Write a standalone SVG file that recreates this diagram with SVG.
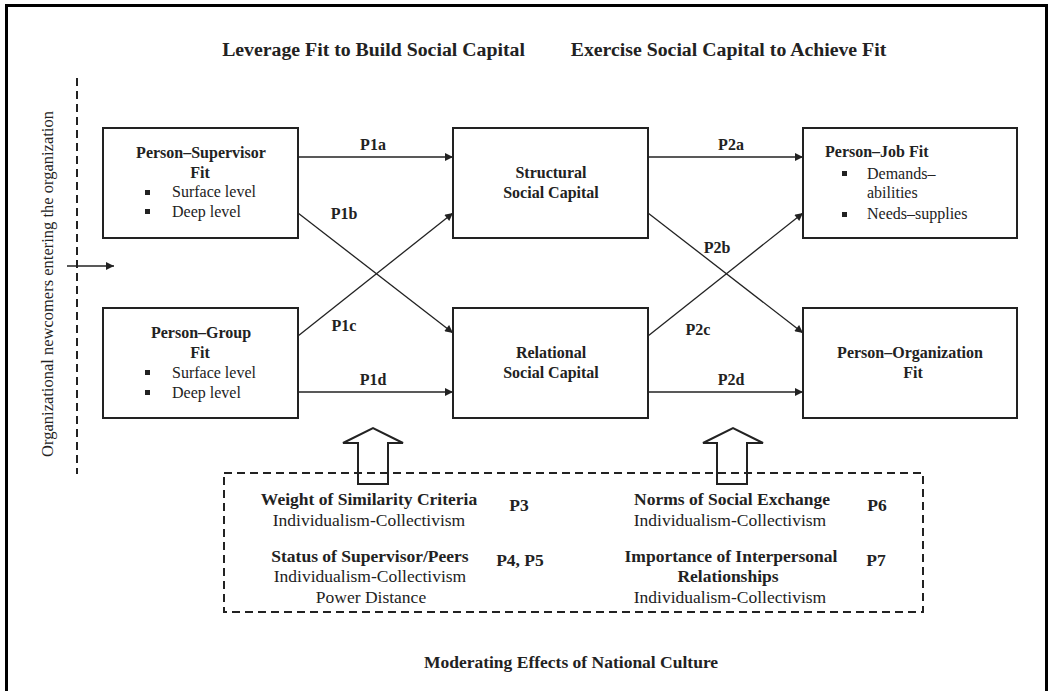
<svg xmlns="http://www.w3.org/2000/svg" width="1050" height="691" viewBox="0 0 1050 691">
<defs>
<marker id="ah" viewBox="0 0 10 10" refX="10" refY="5" markerWidth="10" markerHeight="8" markerUnits="userSpaceOnUse" orient="auto">
<path d="M0,0 L10,5 L0,10 z" fill="#222"/>
</marker>
<style>
text{font-family:"Liberation Serif","Times New Roman",serif;fill:#222}
.b{font-weight:bold;font-size:16px}
.r{font-size:16px}
.mb{font-weight:bold;font-size:17.5px}
.mr{font-size:17.5px}
.t{font-weight:bold;font-size:19.8px}
.c{text-anchor:middle}
.box{fill:#fff;stroke:#222;stroke-width:2}
.ln{stroke:#222;stroke-width:1.3;fill:none;marker-end:url(#ah)}
.bul{fill:#222}
.blk{fill:none;stroke:#222;stroke-width:2}
.dash{fill:none;stroke:#222;stroke-width:2;stroke-dasharray:8 5}
</style>
</defs>
<rect x="0" y="0" width="1050" height="691" fill="#fff"/>
<rect x="6.5" y="5.5" width="1040" height="700" fill="none" stroke="#000" stroke-width="3"/>

<g id="titles">
<text class="t c" x="373.5" y="56">Leverage Fit to Build Social Capital</text>
<text class="t c" x="728.5" y="56">Exercise Social Capital to Achieve Fit</text>
</g>

<g id="entry">
<line class="dash" x1="77" y1="78" x2="77" y2="474" stroke-width="1.8"/>
<text class="c" font-size="16.5" transform="translate(53,284) rotate(-90)">Organizational newcomers entering the organization</text>
</g>

<g id="connectors">
<line class="ln" x1="67" y1="266" x2="114" y2="266"/>
<line class="ln" x1="298" y1="157" x2="453" y2="157"/>
<line class="ln" x1="298" y1="213" x2="453" y2="333"/>
<line class="ln" x1="298" y1="336" x2="453" y2="213"/>
<line class="ln" x1="298" y1="392" x2="453" y2="392"/>
<line class="ln" x1="648" y1="157" x2="803" y2="157"/>
<line class="ln" x1="648" y1="213" x2="803" y2="333"/>
<line class="ln" x1="648" y1="336" x2="803" y2="213"/>
<line class="ln" x1="648" y1="392" x2="803" y2="392"/>
<text class="b c" x="373" y="150">P1a</text>
<text class="b c" x="344" y="219">P1b</text>
<text class="b c" x="344" y="331">P1c</text>
<text class="b c" x="373" y="385">P1d</text>
<text class="b c" x="731" y="150">P2a</text>
<text class="b c" x="717" y="253">P2b</text>
<text class="b c" x="698" y="335">P2c</text>
<text class="b c" x="731" y="385">P2d</text>
</g>

<g id="person-supervisor">
<rect class="box" x="103" y="128" width="195" height="110"/>
<text class="b c" x="201" y="158">Person–Supervisor</text>
<text class="b c" x="200" y="178">Fit</text>
<rect class="bul" x="145" y="190" width="5" height="5"/>
<text class="r" x="172" y="197">Surface level</text>
<rect class="bul" x="145" y="209" width="5" height="5"/>
<text class="r" x="172" y="217">Deep level</text>
</g>

<g id="person-group">
<rect class="box" x="103" y="308" width="195" height="110"/>
<text class="b c" x="201" y="338">Person–Group</text>
<text class="b c" x="200" y="358">Fit</text>
<rect class="bul" x="145" y="370" width="5" height="5"/>
<text class="r" x="172" y="378">Surface level</text>
<rect class="bul" x="145" y="390" width="5" height="5"/>
<text class="r" x="172" y="398">Deep level</text>
</g>

<g id="structural">
<rect class="box" x="453" y="128" width="195" height="110"/>
<text class="b c" x="551" y="178">Structural</text>
<text class="b c" x="551" y="198">Social Capital</text>
</g>

<g id="relational">
<rect class="box" x="453" y="308" width="195" height="110"/>
<text class="b c" x="551" y="358">Relational</text>
<text class="b c" x="551" y="378">Social Capital</text>
</g>

<g id="person-job">
<rect class="box" x="803" y="128" width="214" height="110"/>
<text class="b" x="825" y="157">Person–Job Fit</text>
<rect class="bul" x="842" y="171" width="5" height="5"/>
<text class="r" x="867" y="179">Demands–</text>
<text class="r" x="867" y="198">abilities</text>
<rect class="bul" x="842" y="212" width="5" height="5"/>
<text class="r" x="867" y="219">Needs–supplies</text>
</g>

<g id="person-organization">
<rect class="box" x="803" y="308" width="214" height="110"/>
<text class="b c" x="910" y="358">Person–Organization</text>
<text class="b c" x="913" y="378">Fit</text>
</g>

<g id="national-culture">
<rect class="dash" x="224" y="473" width="699" height="139"/>
<polygon class="blk" points="358,484 358,443 343,443 373,428 403,443 388,443 388,484"/>
<polygon class="blk" points="717,484 717,443 703,443 733,428 763,443 747,443 747,484"/>
<text class="mb c" x="369" y="505">Weight of Similarity Criteria</text>
<text class="mr c" x="369" y="526">Individualism-Collectivism</text>
<text class="mb c" x="519" y="511">P3</text>
<text class="mb c" x="370" y="562">Status of Supervisor/Peers</text>
<text class="mr c" x="370" y="582">Individualism-Collectivism</text>
<text class="mr c" x="371" y="603">Power Distance</text>
<text class="mb c" x="520" y="566">P4, P5</text>
<text class="mb c" x="732" y="505">Norms of Social Exchange</text>
<text class="mr c" x="730" y="526">Individualism-Collectivism</text>
<text class="mb c" x="877" y="511">P6</text>
<text class="mb c" x="731" y="562">Importance of Interpersonal</text>
<text class="mb c" x="728" y="582">Relationships</text>
<text class="mr c" x="730" y="603">Individualism-Collectivism</text>
<text class="mb c" x="876" y="566">P7</text>
<text class="mb c" x="571" y="668">Moderating Effects of National Culture</text>
</g>
</svg>
